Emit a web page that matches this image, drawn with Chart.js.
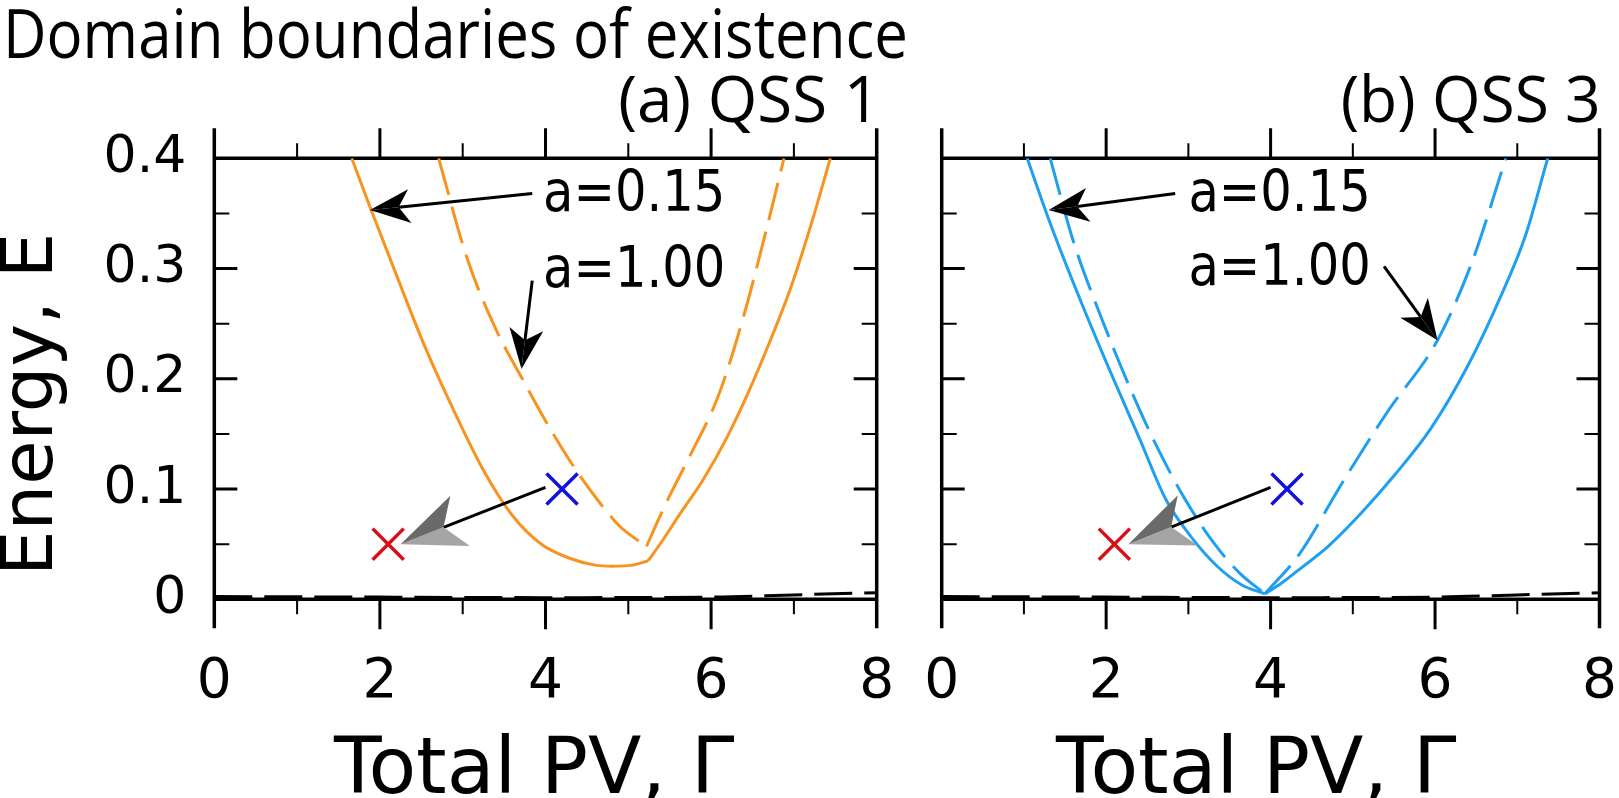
<!DOCTYPE html>
<html>
<head>
<meta charset="utf-8">
<script src="https://cdn.jsdelivr.net/npm/chart.js@4.4.1/dist/chart.umd.min.js"></script>
<style>
  html, body { margin: 0; padding: 0; background: #fff; width: 1619px; height: 798px; overflow: hidden; }
  .box { position: absolute; top: 0; height: 798px; }
  #boxA { left: 0; width: 910px; }
  #boxB { left: 910px; width: 715px; }
  .txt { position: absolute; white-space: nowrap; line-height: 1; color: #000; }
  .os { font-family: 'Open Sans', sans-serif; font-size: 64px; }
  .dv { font-family: 'DejaVu Sans', sans-serif; font-size: 78px; }
</style>
</head>
<body>
<div class="box" id="boxA"><canvas id="chartA"></canvas></div>
<div class="box" id="boxB"><canvas id="chartB"></canvas></div>

<div class="txt os fit" data-w="905" style="left:3px; top:-2px; font-size:68px;">Domain boundaries of existence</div>
<div class="txt os fit" data-w="262" data-right="1" style="right:739px; top:66px;">(a) QSS 1</div>
<div class="txt os fit" data-w="260" data-right="1" style="right:18px; top:66px;">(b) QSS 3</div>
<div class="txt dv" style="left:334px; top:727px;">Total PV, Γ</div>
<div class="txt dv" style="left:1056px; top:727px;">Total PV, Γ</div>
<div class="txt dv" style="left:52px; top:515px; font-size:72px; transform-origin:0 61px; transform:rotate(-90deg);">Energy, E</div>

<script>
// axis ticks
const xTickValues = [0, 2, 4, 6, 8];
const yTickValues = [0, 0.1, 0.2, 0.3, 0.4];

// (a) QSS 1 -- a = 0.15 (solid), split at the kink
const qss1SolidLeftG  = [1.66, 1.90, 2.20, 2.55, 2.90, 3.25, 3.60, 3.95, 4.30, 4.60, 4.80, 5.05, 5.24];
const qss1SolidLeftE  = [0.400, 0.352, 0.294, 0.228, 0.170, 0.117, 0.076, 0.050, 0.037, 0.031, 0.030, 0.031, 0.035];
const qss1SolidRightG = [5.24, 5.42, 5.62, 5.90, 6.20, 6.44, 6.70, 6.95, 7.20, 7.44];
const qss1SolidRightE = [0.035, 0.054, 0.077, 0.108, 0.148, 0.186, 0.232, 0.280, 0.338, 0.400];
// (a) QSS 1 -- a = 1.00 (dashed)
const qss1DashLeftG  = [2.71, 3.05, 3.40, 3.72, 4.00, 4.30, 4.60, 4.90, 5.22];
const qss1DashLeftE  = [0.400, 0.310, 0.245, 0.200, 0.162, 0.125, 0.093, 0.066, 0.048];
const qss1DashRightG = [5.22, 5.35, 5.50, 5.73, 6.09, 6.39, 6.65, 6.88];
const qss1DashRightE = [0.048, 0.070, 0.094, 0.128, 0.185, 0.256, 0.330, 0.400];

// (b) QSS 3 -- a = 0.15 (solid)
const qss3SolidLeftG  = [1.04, 1.30, 1.65, 2.03, 2.41, 2.73, 3.05, 3.35, 3.65, 3.93];
const qss3SolidLeftE  = [0.400, 0.345, 0.278, 0.210, 0.145, 0.090, 0.055, 0.030, 0.013, 0.005];
const qss3SolidRightG = [3.93, 4.13, 4.33, 4.70, 5.10, 5.50, 5.95, 6.40, 6.80, 7.10, 7.37];
const qss3SolidRightE = [0.005, 0.0145, 0.026, 0.048, 0.078, 0.112, 0.155, 0.212, 0.275, 0.330, 0.400];
// (b) QSS 3 -- a = 1.00 (dashed)
const qss3DashLeftG  = [1.32, 1.60, 1.97, 2.30, 2.62, 2.95, 3.30, 3.62, 3.93];
const qss3DashLeftE  = [0.400, 0.325, 0.250, 0.190, 0.138, 0.092, 0.052, 0.024, 0.005];
const qss3DashRightG = [3.93, 4.35, 4.89, 5.43, 6.03, 6.46, 6.86];
const qss3DashRightE = [0.005, 0.041, 0.108, 0.171, 0.235, 0.308, 0.400];

// lower boundary near E = 0 (both panels)
const floorG = [0, 2, 4, 6, 7, 8];
const floorE = [0.0025, 0.002, 0.0015, 0.002, 0.004, 0.006];

// marked states
const startState = [4.2, 0.1];
const endState = [2.1, 0.05];

// annotations: [text, G, E] and arrows [G0, E0, G1, E1]
const qss1Labels = [['a=0.15', 3.97, 0.352], ['a=1.00', 3.97, 0.283]];
const qss1Arrows = [[3.84, 0.368, 1.88, 0.353], [3.84, 0.289, 3.71, 0.209]];
const qss1Shift  = [4.0, 0.1015, 2.25, 0.05];
const qss3Labels = [['a=0.15', 3.0, 0.352], ['a=1.00', 3.0, 0.285]];
const qss3Arrows = [[2.84, 0.368, 1.30, 0.353], [5.38, 0.302, 6.03, 0.235]];
const qss3Shift  = [4.0, 0.1015, 2.27, 0.05];

const zip = (g, e) => g.map((v, i) => ({x: v, y: e[i]}));

function curve(g, e, color, dashed) {
  return {
    data: zip(g, e), showLine: true, borderColor: color, borderWidth: 3,
    borderDash: dashed ? [38, 12] : [], pointRadius: 0,
    cubicInterpolationMode: 'monotone', fill: false
  };
}
function marker(p, color) {
  return {
    data: [{x: p[0], y: p[1]}], showLine: false, pointStyle: 'crossRot',
    pointRadius: 22, pointBorderWidth: 3.5, borderColor: color, backgroundColor: color
  };
}

function arrowHead(ctx, x, y, ang, len, wid, fill, fill2) {
  ctx.save();
  ctx.translate(x, y);
  ctx.rotate(ang);
  ctx.beginPath();
  ctx.moveTo(0, 0); ctx.lineTo(-len, -wid / 2); ctx.lineTo(-len * 0.72, 0); ctx.closePath();
  ctx.fillStyle = fill; ctx.fill();
  ctx.beginPath();
  ctx.moveTo(0, 0); ctx.lineTo(-len, wid / 2); ctx.lineTo(-len * 0.72, 0); ctx.closePath();
  ctx.fillStyle = fill2 || fill; ctx.fill();
  ctx.restore();
}

function arrow(ctx, x0, y0, x1, y1, len, wid, fill, fill2) {
  const ang = Math.atan2(y1 - y0, x1 - x0);
  const bx = x1 - Math.cos(ang) * len * 0.72, by = y1 - Math.sin(ang) * len * 0.72;
  ctx.save();
  ctx.strokeStyle = '#000'; ctx.lineWidth = 3;
  ctx.beginPath(); ctx.moveTo(x0, y0); ctx.lineTo(bx, by); ctx.stroke();
  ctx.restore();
  arrowHead(ctx, x1, y1, ang, len, wid, fill, fill2);
}

const framePlugin = {
  id: 'frame',
  beforeDatasetsDraw(chart) {
    const {ctx, scales: {x, y}} = chart;
    const L = x.getPixelForValue(0), R = x.getPixelForValue(8);
    const T = y.getPixelForValue(0.4), B = y.getPixelForValue(0);
    ctx.save();
    ctx.strokeStyle = '#000';
    ctx.lineWidth = 3.5;
    ctx.beginPath();
    ctx.moveTo(L, T); ctx.lineTo(R, T);
    ctx.moveTo(L, B); ctx.lineTo(R, B);
    ctx.moveTo(L, T - 30); ctx.lineTo(L, B + 29);
    ctx.moveTo(R, T - 30); ctx.lineTo(R, B + 29);
    ctx.stroke();
    for (let g = 1; g < 8; g++) {
      const px = x.getPixelForValue(g), major = g % 2 === 0, len = major ? 30 : 15;
      ctx.lineWidth = major ? 3 : 2;
      ctx.beginPath();
      ctx.moveTo(px, T); ctx.lineTo(px, T - len);
      ctx.moveTo(px, B); ctx.lineTo(px, B + len);
      ctx.stroke();
    }
    for (let k = 1; k < 8; k++) {
      const py = y.getPixelForValue(k * 0.05), major = k % 2 === 0, len = major ? 23 : 15;
      ctx.lineWidth = major ? 3 : 2;
      ctx.beginPath();
      ctx.moveTo(L, py); ctx.lineTo(L + len, py);
      ctx.moveTo(R, py); ctx.lineTo(R - len, py);
      ctx.stroke();
    }
    ctx.restore();
  },
  afterDatasetsDraw(chart, args, opts) {
    const {ctx, scales: {x, y}} = chart;
    const px = v => x.getPixelForValue(v), py = v => y.getPixelForValue(v);
    ctx.save();
    ctx.fillStyle = '#000';
    ctx.font = '57px "DejaVu Sans"';
    ctx.textAlign = 'left'; ctx.textBaseline = 'alphabetic';
    // the figure's lettering is a narrow face: squeeze horizontally
    opts.labels.forEach(([t, g, e]) => {
      ctx.save();
      ctx.translate(px(g), py(e));
      ctx.scale(0.87, 1);
      ctx.fillText(t, 0, 0);
      ctx.restore();
    });
    opts.arrows.forEach(([g0, e0, g1, e1]) => arrow(ctx, px(g0), py(e0), px(g1), py(e1), 40, 34, '#000'));
    const s = opts.shift;
    arrow(ctx, px(s[0]), py(s[1]), px(s[2]), py(s[3]), 64, 54, '#a4a4a4', '#6a6a6a');
    ctx.restore();
  }
};

function makeChart(id, color, sets, note, showY, pad) {
  const d = sets;
  return new Chart(document.getElementById(id), {
    type: 'scatter',
    data: {
      datasets: [
        curve(floorG, floorE, '#000', true),
        curve(d[0], d[1], color, false),
        curve(d[2], d[3], color, false),
        curve(d[4], d[5], color, true),
        curve(d[6], d[7], color, true),
        marker(startState, '#1212dd'),
        marker(endState, '#d80f16')
      ]
    },
    options: {
      animation: false,
      responsive: true,
      maintainAspectRatio: false,
      layout: {padding: pad},
      plugins: {legend: {display: false}, tooltip: {enabled: false}, frame: note},
      scales: {
        x: {
          type: 'linear', min: 0, max: 8, position: 'bottom',
          grid: {display: false, drawTicks: false}, border: {display: false},
          afterBuildTicks: s => { s.ticks = xTickValues.map(v => ({value: v})); },
          afterFit: s => { s.height = 110; s.paddingLeft = 0; s.paddingRight = 0; },
          ticks: {color: '#000', padding: 50, font: {family: 'DejaVu Sans', size: 55}, maxRotation: 0}
        },
        y: {
          type: 'linear', min: 0, max: 0.4, display: showY,
          grid: {display: false, drawTicks: false}, border: {display: false},
          afterBuildTicks: s => { s.ticks = yTickValues.map(v => ({value: v})); },
          afterFit: s => { if (showY) s.width = 214.3; s.paddingTop = 0; s.paddingBottom = 0; },
          ticks: {color: '#000', padding: 28, font: {family: 'DejaVu Sans', size: 52},
                  callback: v => v === 0 ? '0' : v.toFixed(1)}
        }
      }
    },
    plugins: [framePlugin]
  });
}

makeChart('chartA', '#f7931e',
  [qss1SolidLeftG, qss1SolidLeftE, qss1SolidRightG, qss1SolidRightE,
   qss1DashLeftG, qss1DashLeftE, qss1DashRightG, qss1DashRightE],
  {labels: qss1Labels, arrows: qss1Arrows, shift: qss1Shift},
  true, {top: 158.3, right: 33.3, bottom: 88.7, left: 0});

makeChart('chartB', '#1e9ff0',
  [qss3SolidLeftG, qss3SolidLeftE, qss3SolidRightG, qss3SolidRightE,
   qss3DashLeftG, qss3DashLeftE, qss3DashRightG, qss3DashRightE],
  {labels: qss3Labels, arrows: qss3Arrows, shift: qss3Shift},
  false, {top: 158.3, right: 20.7, bottom: 88.7, left: 31.7});

// condensed heading font: squeeze each heading to the width it has in the figure
document.querySelectorAll('.fit').forEach(el => {
  const w = el.getBoundingClientRect().width;
  el.style.transformOrigin = el.dataset.right ? '100% 0' : '0 0';
  el.style.transform = 'scaleX(' + (+el.dataset.w / w) + ')';
});
</script>
</body>
</html>
